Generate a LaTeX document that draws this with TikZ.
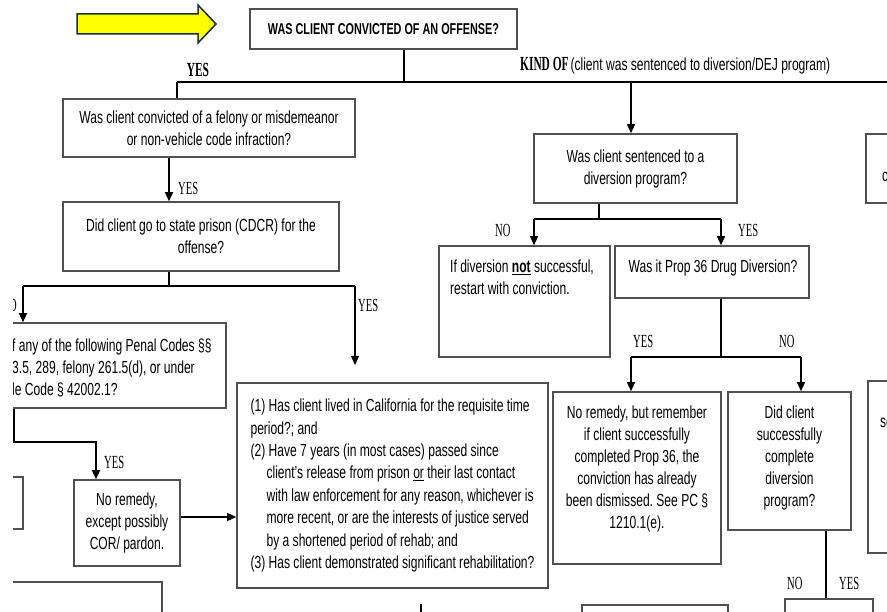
\documentclass[tikz,border=0pt]{standalone}
\usepackage{fontspec}
\setmainfont{Liberation Sans}[FakeStretch=0.69]
\newfontfamily\narrowserif{Liberation Serif}[FakeStretch=0.57]
\usetikzlibrary{arrows.meta}
\definecolor{boxgray}{RGB}{80,80,80}
\definecolor{arrowyellow}{RGB}{255,255,0}
\definecolor{arrownavy}{RGB}{25,42,68}
\frenchspacing

\begin{document}
\begin{tikzpicture}
        [%%%%%%%%%%%%%%%%%%%%%%%%%%%%%%
        x=1pt, y=-1pt,
        box/.style={rectangle, draw=boxgray, line width=1.6pt, inner sep=0pt},
        txt/.style={font=\fontsize{17.5pt}{22pt}\selectfont, align=center, inner sep=0pt},
        yn/.style={font=\narrowserif\fontsize{18.5pt}{20pt}\selectfont, inner sep=0pt},
        ynbold/.style={font=\narrowserif\bfseries\fontsize{20pt}{22pt}\selectfont, inner sep=0pt},
        wire/.style={line width=1.3pt, black},
        arr/.style={wire, -{Triangle[length=9pt, width=8pt]}},
        ]%%%%%%%%%%%%%%%%%%%%%%%%%%%%%%
        \useasboundingbox (0,0) rectangle (887,612);
        \clip (13,0) rectangle (887,612);

        % Pointer arrow
        \draw[fill=arrowyellow, draw=arrownavy, line width=1.5pt]
          (77,14) -- (198,14) -- (198,5) -- (216,24) -- (198,43) -- (198,34) -- (77,34) -- cycle;

        % Question boxes
        \node[box, txt, minimum width=267pt, minimum height=40pt,
          font=\bfseries\fontsize{15.7pt}{18pt}\selectfont] (offense) at (383.5,29)
          {WAS CLIENT CONVICTED OF AN OFFENSE?};
        \node[box, txt, minimum width=292pt, minimum height=58pt] (felony) at (209,128)
          {Was client convicted of a felony or misdemeanor\\or non-vehicle code infraction?};
        \node[box, txt, minimum width=276pt, minimum height=69pt] (prison) at (201,236.5)
          {Did client go to state prison (CDCR) for the\\offense?};
        \node[box, txt, minimum width=203pt, minimum height=69pt] (divq) at (635.5,168.5)
          {Was client sentenced to a\\diversion program?};
        \node[box, minimum width=326pt, minimum height=85pt] (penal) at (63,365.5) {};
        \node[txt, align=left, anchor=north west] (penaltxt) at (12,338.5)
          {f any of the following Penal Codes §§\\3.5, 289, felony 261.5(d), or under\\le Code § 42002.1?};
        \node[box, txt, minimum width=106pt, minimum height=86pt] (cor) at (127,523)
          {No remedy,\\except possibly\\COR/ pardon.};
        \node[box, txt, align=left, minimum width=311pt, minimum height=205pt,
          font=\fontsize{17.5pt}{22.4pt}\selectfont] (rehab) at (392.5,485.5)
          {(1) Has client lived in California for the requisite time\\
           period?; and\\
           (2) Have 7 years (in most cases) passed since\\
           \hspace*{16pt}client's release from prison \underline{or} their last contact\\
           \hspace*{16pt}with law enforcement for any reason, whichever is\\
           \hspace*{16pt}more recent, or are the interests of justice served\\
           \hspace*{16pt}by a shortened period of rehab; and\\
           (3) Has client demonstrated significant rehabilitation?};
        \node[box, minimum width=171pt, minimum height=111pt] (fail) at (524.5,301.5) {};
        \node[txt, align=left, anchor=north west] (failtxt) at (450,259.5)
          {If diversion \underline{\textbf{not}} successful,\\restart with conviction.};
        \node[box, minimum width=194pt, minimum height=52pt] (prop) at (712,272) {};
        \node[txt, anchor=north] (proptxt) at (713,259.5) {Was it Prop 36 Drug Diversion?};
        \node[box, minimum width=168pt, minimum height=172pt] (remember) at (637,478) {};
        \node[txt, anchor=north] (remembertxt) at (637,405.5)
          {No remedy, but remember\\if client successfully\\completed Prop 36, the\\conviction has already\\been dismissed. See PC §\\1210.1(e).};
        \node[box, minimum width=123pt, minimum height=138pt] (complete) at (789.5,461) {};
        \node[txt, anchor=north] (completetxt) at (789.5,405.5)
          {Did client\\successfully\\complete\\diversion\\program?};

        % Boxes cut by the edges
        \node[box, minimum width=134pt, minimum height=69pt] (rightA) at (933,168.5) {};
        \node[txt, anchor=west] (rightAtxt) at (882,177) {c};
        \node[box, minimum width=132pt, minimum height=172pt] (rightB) at (934,467) {};
        \node[txt, anchor=west] (rightBtxt) at (880,423) {se};
        \node[box, minimum width=73pt, minimum height=52pt] (leftC) at (-13.5,503) {};
        \node[box, minimum width=212pt, minimum height=78pt] (botL) at (56,621) {};
        \node[box, minimum width=146pt, minimum height=75pt] (botM) at (655,642.5) {};
        \node[box, minimum width=88pt, minimum height=81pt] (botR) at (829,639.5) {};

        % Connectors
        \coordinate (yesL) at (177,82);
        \coordinate (edgeR) at (900,82);
        \coordinate (kind) at (631,82);
        \draw[wire] ([xshift=20.5pt]offense.south) -- ++(0,33);
        \draw[wire] (yesL) -- (edgeR);
        \draw[wire] (yesL) -- (yesL |- felony.north);
        \draw[arr] (kind) -- (kind |- divq.north);

        \coordinate (felout) at ([xshift=-40pt]felony.south);
        \draw[arr] (felout) -- (felout |- prison.north);

        \coordinate (prisout) at ([xshift=-32pt]prison.south);
        \coordinate (noP) at (23,286);
        \coordinate (yesP) at (355,286);
        \coordinate (yesPend) at (355,365);
        \draw[wire] (prisout) -- (prisout |- noP);
        \draw[wire] (noP) -- (yesP);
        \draw[arr] (noP) -- (noP |- penal.north);
        \draw[arr] (yesP) -- (yesPend);

        \coordinate (penout) at (14,442);
        \draw[arr] (penout |- penal.south) -- (penout) -| ([xshift=-31pt]cor.north);
        \coordinate (corout) at ([yshift=6pt]cor.east);
        \draw[arr] (corout) -- (corout -| rehab.west);

        \coordinate (divout) at ([xshift=-36.5pt]divq.south);
        \coordinate (noD) at (534,219);
        \coordinate (yesD) at (721,219);
        \draw[wire] (divout) -- (divout |- noD);
        \draw[wire] (noD) -- (yesD);
        \draw[arr] (noD) -- (noD |- fail.north);
        \draw[arr] (yesD) -- (yesD |- prop.north);

        \coordinate (propout) at ([xshift=9pt]prop.south);
        \coordinate (yesQ) at (631,357);
        \coordinate (noQ) at (801,357);
        \draw[wire] (propout) -- (propout |- yesQ);
        \draw[wire] (yesQ) -- (noQ);
        \draw[arr] (yesQ) -- (yesQ |- remember.north);
        \draw[arr] (noQ) -- (noQ |- complete.north);

        \coordinate (compout) at ([xshift=36.5pt]complete.south);
        \draw[wire] (compout) -- (compout |- botR.north);

        \coordinate (tickA) at (421,604);
        \coordinate (tickB) at (421,614);
        \draw[wire] (tickA) -- (tickB);

        % Branch labels
        \node[ynbold, anchor=base] (yes0) at (198,77) {YES};
        \node[anchor=base west, inner sep=0pt] (kindlbl) at (520,71)
          {{\narrowserif\bfseries\fontsize{20pt}{22pt}\selectfont KIND OF}
           {\fontsize{17.5pt}{22pt}\selectfont(client was sentenced to diversion/DEJ program)}};
        \node[yn, anchor=base west] (yes1) at (178,195) {YES};
        \node[yn, anchor=base west] (yes2) at (358,312) {YES};
        \node[yn, anchor=base east] (no2) at (17,312) {NO};
        \node[yn, anchor=base west] (yes3) at (104,468) {YES};
        \node[yn, anchor=base west] (no4) at (495,237) {NO};
        \node[yn, anchor=base west] (yes4) at (738,237) {YES};
        \node[yn, anchor=base west] (yes5) at (633,348) {YES};
        \node[yn, anchor=base west] (no5) at (779,348) {NO};
        \node[yn, anchor=base west] (no6) at (787,589) {NO};
        \node[yn, anchor=base west] (yes6) at (839,589) {YES};

      \end{tikzpicture}
\end{document}
